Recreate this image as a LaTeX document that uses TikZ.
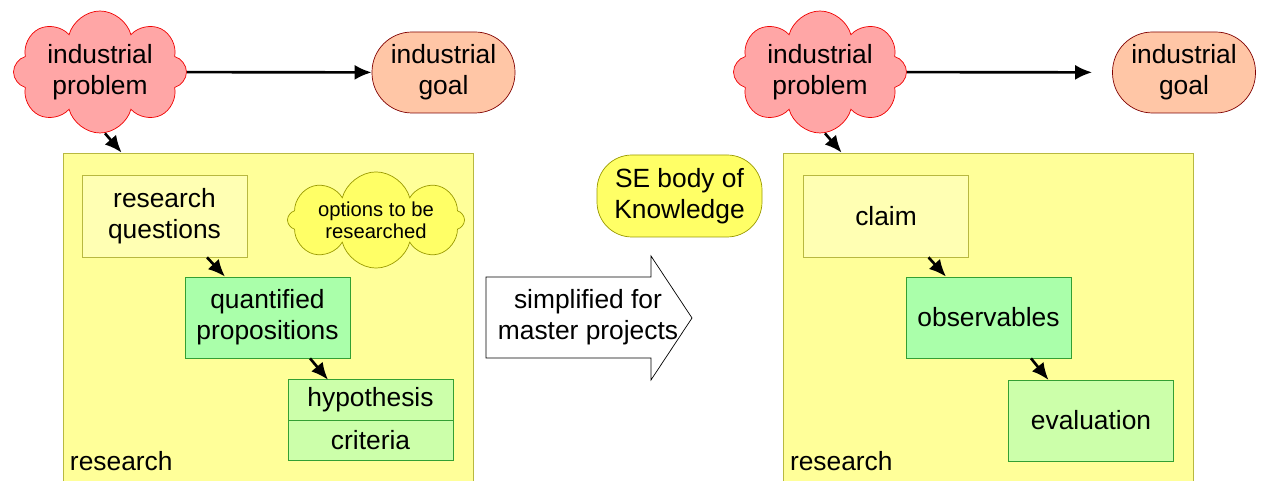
\documentclass[tikz,border=0pt]{standalone}
\usepackage{fontspec}
\setmainfont{Liberation Sans}
\usetikzlibrary{shapes.symbols,arrows.meta,positioning}
\definecolor{ProbFill}{HTML}{FFA6A6}
\definecolor{ProbLine}{HTML}{F00000}
\definecolor{GoalFill}{HTML}{FFC6A6}
\definecolor{GoalLine}{HTML}{800000}
\definecolor{ResFill}{HTML}{FFFF99}
\definecolor{ResLine}{HTML}{B8B840}
\definecolor{QuesFill}{HTML}{FFFFB3}
\definecolor{OptFill}{HTML}{FFFF66}
\definecolor{OptLine}{HTML}{999900}
\definecolor{PropFill}{HTML}{AAFFAA}
\definecolor{PropLine}{HTML}{33A033}
\definecolor{HypFill}{HTML}{CCFFAA}

\begin{document}
\begin{tikzpicture}[x=1cm,y=1cm,
  txt/.style={font=\fontsize{15}{17.5}\selectfont,align=center},
  problem/.style={txt,cloud,cloud puffs=8,cloud ignores aspect,draw=ProbLine,fill=ProbFill,
    minimum width=3.46cm,minimum height=2.44cm,inner sep=0pt},
  goal/.style={txt,draw=GoalLine,fill=GoalFill,rounded corners=0.8cm,
    minimum width=2.86cm,minimum height=1.62cm},
  resbox/.style={draw=ResLine,fill=ResFill,minimum width=8.2cm,minimum height=6.66cm},
  reslabel/.style={txt,anchor=west,inner sep=0pt},
  quesbox/.style={txt,draw=ResLine,fill=QuesFill,minimum width=3.3cm,minimum height=1.64cm},
  propbox/.style={txt,draw=PropLine,fill=PropFill,minimum width=3.3cm,minimum height=1.62cm},
  hypbox/.style={txt,draw=PropLine,fill=HypFill,minimum width=3.3cm,minimum height=0.81cm,outer sep=0pt},
  options/.style={cloud,cloud puffs=8,cloud ignores aspect,draw=OptLine,fill=OptFill,align=center,
    font=\fontsize{11.5}{12.5}\selectfont,minimum width=3.54cm,minimum height=1.8cm,inner sep=0pt},
  sebody/.style={txt,draw=OptLine,fill=OptFill,rounded corners=0.7cm,
    minimum width=3.3cm,minimum height=1.64cm},
  arr/.style={-{Latex[length=3.4mm,width=3mm]},line width=1.5pt}
]
\path[use as bounding box] (0,0) rectangle (25.22,9.62);

% left: research
\node[resbox] (resL) at (5.36,3.23) {};
\node[reslabel] (resLlabel) at ([shift={(0.14,0.5)}]resL.south west) {research};
\node[problem] (probL) at (2.00,8.18) {industrial\\problem};
\node[goal] (goalL) at (8.87,8.17) {industrial\\goal};
\node[quesbox] (ques) at (3.29,5.30) {research\\questions};
\node[options] (opts) at (7.52,5.22) {options to be\\researched};
\node[propbox] (prop) at (5.35,3.27) {quantified\\propositions};
\node[hypbox] (hyp) at (7.41,1.62) {hypothesis};
\node[hypbox,below=0pt of hyp] (crit) {criteria};
\draw[arr] (probL) -- (goalL);
\draw[arr] ([xshift=1mm]probL.south) -- ([xshift=11.8mm]resL.north west);
\draw[arr] ([xshift=8.5mm]ques.south) -- ([xshift=-8.5mm]prop.north);
\draw[arr] ([xshift=8.5mm]prop.south) -- ([xshift=-8.5mm]hyp.north);

% middle
\node[sebody] (sebok) at (13.59,5.70) {SE body of\\Knowledge};
\draw[fill=white] (9.72,2.46) -- (13.02,2.46) -- (13.02,2.02) -- (13.84,3.26)
  -- (13.02,4.50) -- (13.02,4.08) -- (9.72,4.08) -- cycle;
\node[txt] (simpl) at (11.76,3.27) {simplified for\\master projects};

% right: research for master projects
\node[resbox] (resR) at (19.76,3.23) {};
\node[reslabel] (resRlabel) at ([shift={(0.14,0.5)}]resR.south west) {research};
\node[problem] (probR) at (16.40,8.18) {industrial\\problem};
\node[goal] (goalR) at (23.68,8.17) {industrial\\goal};
\node[quesbox] (claim) at (17.72,5.30) {claim};
\node[propbox] (obs) at (19.77,3.27) {observables};
\node[hypbox,minimum height=1.62cm] (eval) at (21.82,1.21) {evaluation};
\draw[arr,shorten >=0.4cm] (probR) -- (goalR);
\draw[arr] ([xshift=1mm]probR.south) -- ([xshift=11.8mm]resR.north west);
\draw[arr] ([xshift=8.5mm]claim.south) -- ([xshift=-8.5mm]obs.north);
\draw[arr] ([xshift=8.5mm]obs.south) -- ([xshift=-8.5mm]eval.north);
\end{tikzpicture}
\end{document}
